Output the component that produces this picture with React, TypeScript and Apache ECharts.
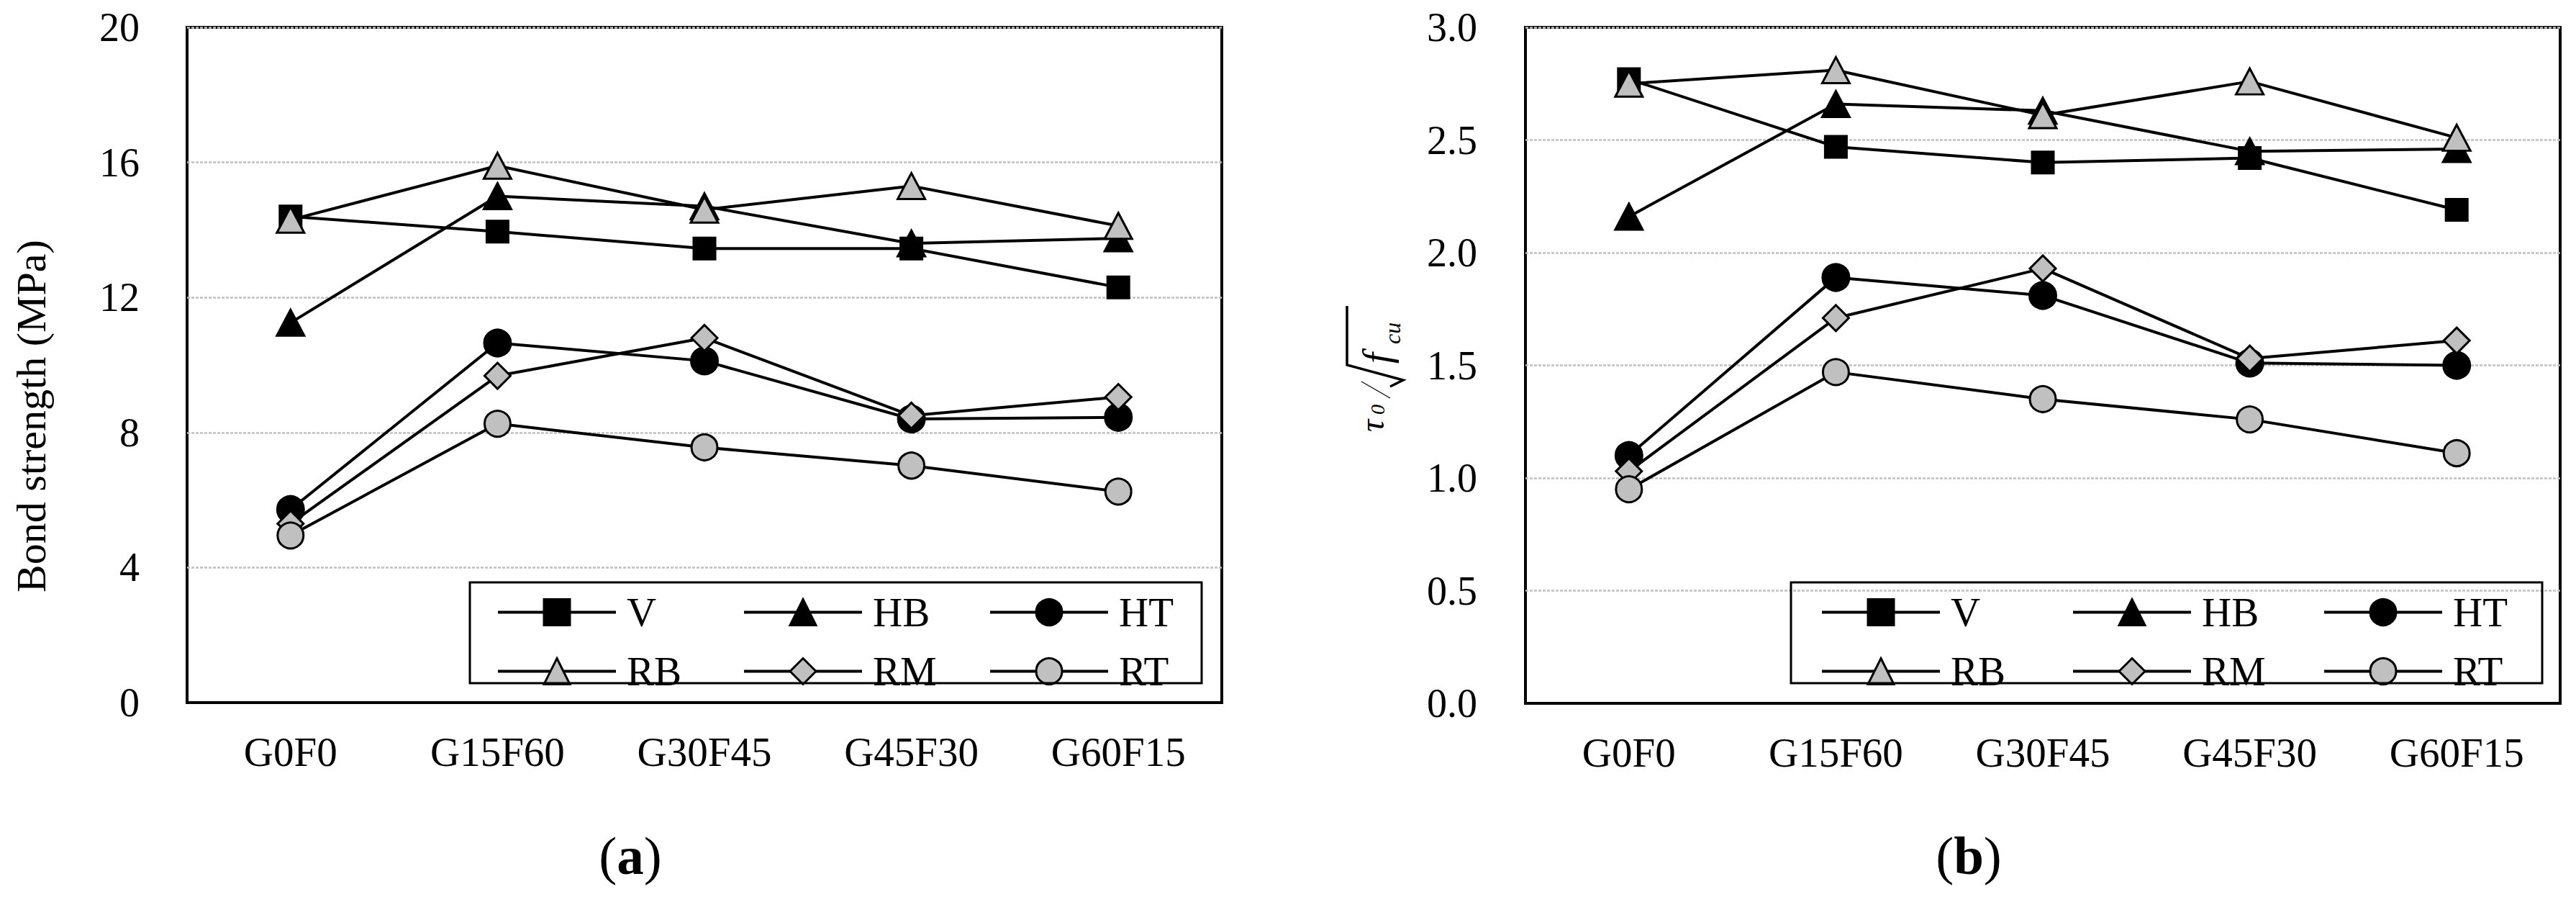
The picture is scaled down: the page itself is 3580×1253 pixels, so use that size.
import React, { useEffect, useRef } from "react";
import * as echarts from "echarts";

const categories = ["G0F0", "G15F60", "G30F45", "G45F30", "G60F15"];
const seriesNames = ["V", "HB", "HT", "RB", "RM", "RT"];

// Panel (a): bond strength (MPa)
const aV = [14.4, 13.95, 13.45, 13.45, 12.3];
const aHB = [11.25, 15.0, 14.7, 13.6, 13.75];
const aHT = [5.72, 10.65, 10.12, 8.4, 8.45];
const aRB = [14.3, 15.9, 14.6, 15.3, 14.12];
const aRM = [5.3, 9.68, 10.8, 8.5, 9.05];
const aRT = [4.95, 8.26, 7.56, 7.02, 6.25];

// Panel (b): normalised bond strength
const bV = [2.77, 2.47, 2.4, 2.42, 2.19];
const bHB = [2.16, 2.66, 2.63, 2.45, 2.46];
const bHT = [1.1, 1.89, 1.81, 1.51, 1.5];
const bRB = [2.75, 2.81, 2.61, 2.76, 2.51];
const bRM = [1.03, 1.71, 1.93, 1.53, 1.61];
const bRT = [0.95, 1.47, 1.35, 1.26, 1.11];

const aTicks = { min: 0, max: 20, interval: 4 };
const bTicks = { min: 0, max: 3, interval: 0.5 };

const FONT = "'Liberation Serif', 'Times New Roman', serif";

const styles: Record<string, { symbol: string; size: any; fill: string }> = {
  V: { symbol: "rect", size: 30, fill: "#000000" },
  HB: { symbol: "triangle", size: [38, 36], fill: "#000000" },
  HT: { symbol: "circle", size: 37, fill: "#000000" },
  RB: { symbol: "triangle", size: [38, 36], fill: "#c0c0c0" },
  RM: { symbol: "diamond", size: 36, fill: "#c0c0c0" },
  RT: { symbol: "circle", size: 36, fill: "#c0c0c0" },
};

function makeSeries(values: number[][], idx: number) {
  return seriesNames.map((name, i) => ({
    name,
    type: "line",
    xAxisIndex: idx,
    yAxisIndex: idx,
    data: values[i],
    symbol: styles[name].symbol,
    symbolSize: styles[name].size,
    lineStyle: { color: "#000", width: 4 },
    itemStyle: { color: styles[name].fill, borderColor: "#000", borderWidth: 3 },
    emphasis: { disabled: true },
  }));
}

export default function App() {
  const ref = useRef<HTMLDivElement>(null);
  useEffect(() => {
    document.body.style.margin = "0";
    const chart = echarts.init(ref.current!, null, { renderer: "svg" });
    const axisLabel = { color: "#000", fontSize: 56, fontFamily: FONT };
    const splitLine = { show: true, lineStyle: { color: "#c0c0c0", width: 2.5, type: [4, 2] } };
    const legendBase = {
      orient: "horizontal",
      itemWidth: 164,
      itemHeight: 45,
      itemGap: 25,
      padding: 0,
      selectedMode: false,
      data: seriesNames,
      lineStyle: { width: 4, color: "#000" },
      itemStyle: { borderWidth: 3, borderColor: "#000" },
    };
    const sub = (t: string, x: number, y: number, fs: number) => ({
      type: "text",
      x,
      y,
      style: { text: t, fontSize: fs, fontStyle: "italic", fontFamily: FONT, fill: "#000", align: "left", verticalAlign: "middle" },
    });
    const option: any = {
      animation: false,
      backgroundColor: "#ffffff",
      textStyle: { fontFamily: FONT },
      grid: [
        { left: 260, top: 38, width: 1438, height: 938, show: true, borderColor: "#000", borderWidth: 4, outerBoundsMode: "none" },
        { left: 2120, top: 38, width: 1438, height: 939, show: true, borderColor: "#000", borderWidth: 4, outerBoundsMode: "none" },
      ],
      xAxis: [0, 1].map((i) => ({
        type: "category",
        gridIndex: i,
        data: categories,
        boundaryGap: true,
        axisTick: { show: false },
        axisLine: { show: true, lineStyle: { color: "#000", width: 4 } },
        axisLabel: { ...axisLabel, fontSize: 57, margin: 40 },
        splitLine: { show: false },
      })),
      yAxis: [
        {
          type: "value",
          gridIndex: 0,
          ...aTicks,
          axisLine: { show: false },
          axisTick: { show: false },
          axisLabel: { ...axisLabel, margin: 66 },
          splitLine,
        },
        {
          type: "value",
          gridIndex: 1,
          ...bTicks,
          axisLine: { show: false },
          axisTick: { show: false },
          axisLabel: { ...axisLabel, margin: 67, formatter: (v: number) => v.toFixed(1) },
          splitLine,
        },
      ],
      legend: [
        {
          ...legendBase,
          left: 690,
          top: 822,
          width: 1120,
          textStyle: { fontSize: 57, color: "#000", fontFamily: FONT, width: 136, lineHeight: 45, padding: [0, 0, 0, 10] },
        },
        {
          ...legendBase,
          left: 2530,
          top: 822,
          width: 1140,
          textStyle: { fontSize: 57, color: "#000", fontFamily: FONT, width: 143, lineHeight: 45, padding: [0, 0, 0, 10] },
        },
      ],
      series: [
        ...makeSeries([aV, aHB, aHT, aRB, aRM, aRT], 0),
        ...makeSeries([bV, bHB, bHT, bRB, bRM, bRT], 1),
      ],
      graphic: [
        {
          type: "rect",
          silent: true,
          z: 10,
          shape: { x: 653, y: 809, width: 1017, height: 140 },
          style: { fill: "transparent", stroke: "#000", lineWidth: 3 },
        },
        {
          type: "rect",
          silent: true,
          z: 10,
          shape: { x: 2489, y: 809, width: 1044, height: 140 },
          style: { fill: "transparent", stroke: "#000", lineWidth: 3 },
        },
        {
          type: "text",
          x: 43,
          y: 578,
          rotation: Math.PI / 2,
          style: {
            text: "Bond strength (MPa)",
            fontSize: 58,
            fontFamily: FONT,
            fill: "#000",
            align: "center",
            verticalAlign: "middle",
          },
        },
        {
          type: "group",
          x: 1922,
          y: 600,
          rotation: Math.PI / 2,
          children: [
            sub("τ", 0, -16, 48),
            sub("0", 24, -8, 28),
            {
              type: "line",
              shape: { x1: 47, y1: 10, x2: 70, y2: -30 },
              style: { stroke: "#000", lineWidth: 1.2 },
            },
            {
              type: "polyline",
              shape: { points: [[63, 10], [72, 28], [93, -50], [175, -50]] },
              style: { stroke: "#000", lineWidth: 3.5, fill: null },
            },
            sub("f", 95, -8, 54),
            sub("cu", 122, 13, 32),
          ],
        },
        {
          type: "text",
          x: 876,
          y: 1188,
          style: {
            text: "{p|(}{b|a}{p|)}",
            align: "center",
            verticalAlign: "middle",
            rich: {
              p: { fontSize: 75, fontFamily: FONT, fill: "#000" },
              b: { fontSize: 75, fontFamily: FONT, fontWeight: "bold", fill: "#000" },
            },
          },
        },
        {
          type: "text",
          x: 2736,
          y: 1188,
          style: {
            text: "{p|(}{b|b}{p|)}",
            align: "center",
            verticalAlign: "middle",
            rich: {
              p: { fontSize: 75, fontFamily: FONT, fill: "#000" },
              b: { fontSize: 75, fontFamily: FONT, fontWeight: "bold", fill: "#000" },
            },
          },
        },
      ],
    };
    chart.setOption(option);
    return () => chart.dispose();
  }, []);
  return <div ref={ref} style={{ width: 3580, height: 1253 }} />;
}
